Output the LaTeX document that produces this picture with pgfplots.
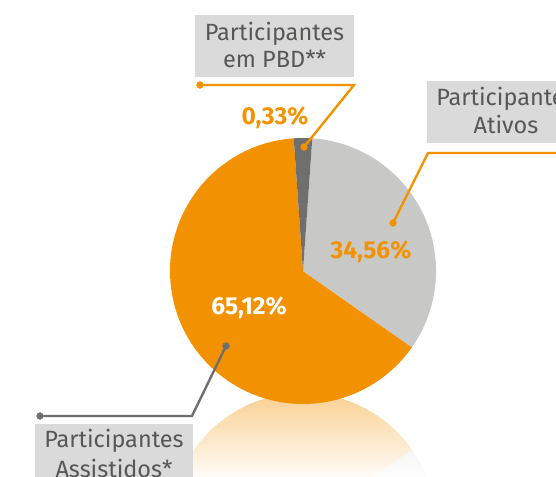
\documentclass[border=0pt]{standalone}
\usepackage{pgfplots}
\pgfplotsset{compat=1.18}
\usepackage{fontspec}
\setmainfont{Fira Sans}
\usetikzlibrary{fadings}
\definecolor{cOrange}{HTML}{F39200}
\definecolor{cLight}{HTML}{C8C8C7}
\definecolor{cDark}{HTML}{6F6F6E}
\definecolor{cBox}{HTML}{DADADA}
\definecolor{cText}{HTML}{575756}
\tikzfading[name=whiteup, top color=transparent!100, bottom color=transparent!0]
\begin{document}
\begin{tikzpicture}
\begin{axis}[hide axis, scale only axis, x=1pt, y=1pt,
  xmin=0, xmax=556, ymin=0, ymax=476, clip=true]
% reflection
\fill[cOrange, opacity=0.46] (axis cs:303,-50) -- ++(-94:133pt) arc[start angle=-94, end angle=-325, radius=133pt] -- cycle;
\fill[cLight, opacity=0.46] (axis cs:303,-50) -- ++(-86:133pt) arc[start angle=-86, end angle=35, radius=133pt] -- cycle;
\fill[white, path fading=whiteup] (axis cs:0,-6) rectangle (axis cs:556,88);
% pie: Assistidos 65,12% ; Ativos 34,56% ; PBD 0,33%
\fill[cOrange] (axis cs:303,205) -- ++(94:133pt) arc[start angle=94, end angle=325, radius=133pt] -- cycle;
\fill[cLight] (axis cs:303,205) -- ++(86:133pt) arc[start angle=86, end angle=-35, radius=133pt] -- cycle;
\fill[cDark] (axis cs:303,205) -- ++(94:133pt) arc[start angle=94, end angle=86, radius=133pt] -- cycle;
% boxes
\fill[cBox] (axis cs:195,399) rectangle (axis cs:354,461);
\fill[cBox] (axis cs:427,333) rectangle (axis cs:585,395);
\fill[cBox] (axis cs:35,-12) rectangle (axis cs:193,52);
\begin{scope}[every node/.style={text=cText, anchor=base, inner sep=0pt, font=\fontsize{23.5}{28}\selectfont}]
\node at (axis cs:274.5,435) {Participantes};
\node at (axis cs:274.5,408) {em PBD**};
\node at (axis cs:506,370) {Participantes};
\node at (axis cs:506,342) {Ativos};
\node at (axis cs:114,28) {Participantes};
\node at (axis cs:114,-1) {Assistidos*};
\end{scope}
% leaders
\addplot[cOrange, line width=2.4pt, no marks] coordinates {(200,391) (354,391) (304,329)};
\addplot[cOrange, only marks, mark=*, mark size=3.4pt] coordinates {(200,391) (304,329)};
\addplot[cOrange, line width=2.4pt, no marks] coordinates {(393,253) (428,323) (560,323)};
\addplot[cOrange, only marks, mark=*, mark size=3.4pt] coordinates {(393,253)};
\addplot[cDark, line width=2.4pt, no marks] coordinates {(226,130) (192,60) (40,60)};
\addplot[cDark, only marks, mark=*, mark size=3.4pt] coordinates {(226,130) (40,60)};
% percentages
\begin{scope}[every node/.style={anchor=base, inner sep=0pt, font=\fontsize{24.5}{28}\selectfont\bfseries}]
\node[text=cOrange] at (axis cs:275,351) {0,33\%};
\node[text=cOrange] at (axis cs:371,217) {34,56\%};
\node[text=white] at (axis cs:249,161) {65,12\%};
\end{scope}
\end{axis}
\pgfresetboundingbox
\path (current axis.south west) rectangle (current axis.north east);
\end{tikzpicture}
\end{document}
